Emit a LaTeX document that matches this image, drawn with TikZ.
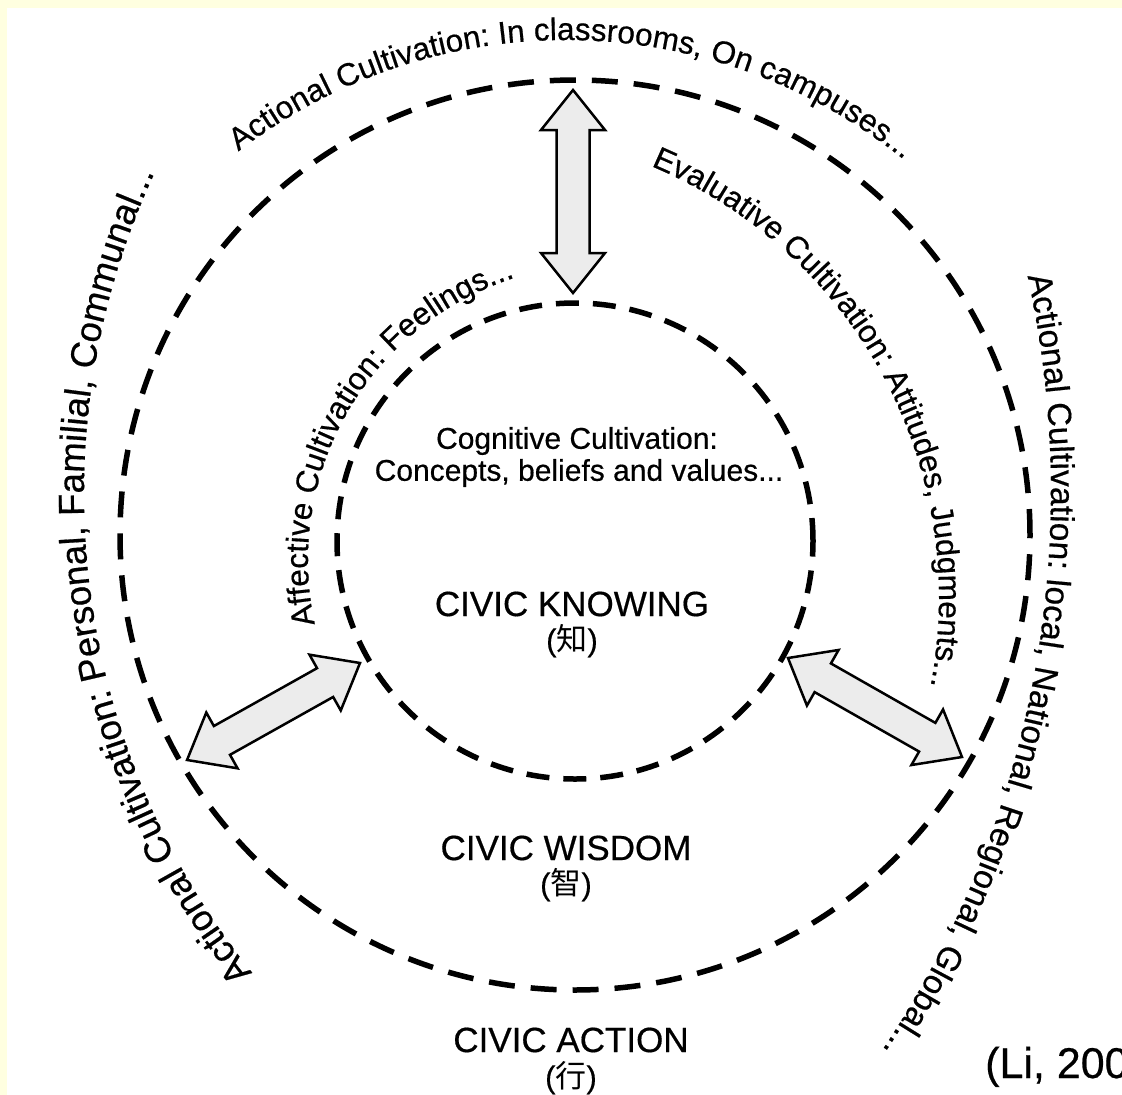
\documentclass[tikz,border=0pt]{standalone}
\usepackage{fontspec}
\setmainfont{Liberation Sans}[FakeBold=0.5]
\newfontfamily\cjk{Noto Sans CJK SC}
\usetikzlibrary{decorations.text}
\definecolor{bordery}{RGB}{255,255,224}
\definecolor{arrowgray}{RGB}{236,236,236}
\newcommand{\fsz}[1]{\fontsize{#1}{#1}\selectfont}
% double block arrow from a named coordinate, rotated, of given length
\newcommand{\dblarrow}[3]{%
  \begin{scope}[shift={(#1)},rotate=#2]
    \draw[blockarrow] (0,0) -- (40,32) -- (40,16.5) -- ({#3-40},16.5) -- ({#3-40},32)
      -- (#3,0) -- ({#3-40},-32) -- ({#3-40},-16.5) -- (40,-16.5) -- (40,-32) -- cycle;
  \end{scope}}
% text along a circular arc: cx, cy, radius, start, end, font size, text
\newcommand{\arctext}[7]{%
  \path[decorate, shift={(#1,#2)},
    decoration={text along path, text align=center, text={|\fsz{#6}|#7}}]
    (#4:#3) arc[start angle=#4, end angle=#5, radius=#3];}
\begin{document}
\begin{tikzpicture}[x=1pt,y=1pt,
  innerring/.style={draw=black, line width=5.5pt, dash pattern=on 23pt off 14pt},
  outerring/.style={draw=black, line width=5.5pt, dash pattern=on 26pt off 16pt},
  blockarrow/.style={draw=black, line width=2.5pt, fill=arrowgray, line join=miter},
  lbl/.style={inner sep=0pt, align=center, text=black}]
\useasboundingbox (0,0) rectangle (1122,-1095);
\fill[bordery] (0,0) rectangle (1122,-1095);
\fill[white] (7,-8) rectangle (1122,-1095);

% rings
\coordinate (ci) at (575,-541);
\coordinate (co) at (575,-535);
\draw[innerring] (ci) circle[radius=238];
\draw[outerring] (co) circle[radius=455];

% arrows
\coordinate (tIn) at (573,-293);
\coordinate (tOut) at (573,-90);
\coordinate (rIn) at (788,-658);
\coordinate (rOut) at (962,-757);
\coordinate (lIn) at (360,-663);
\coordinate (lOut) at (187,-760);
\dblarrow{tIn}{90}{203}
\dblarrow{rIn}{-29.64}{200.2}
\dblarrow{lIn}{209.28}{198.3}

% labels
\node[lbl, font=\fsz{30}] (cog1) at (577,-441) {Cognitive Cultivation:};
\node[lbl, font=\fsz{30}] (cog2) at (579,-473) {Concepts, beliefs and values...};
\node[lbl, font=\fsz{35}] (know) at (572,-604) {CIVIC KNOWING};
\node[lbl, font=\fsz{31}] (knowc) at (572,-641) {({\cjk 知})};
\node[lbl, font=\fsz{35}] (wis) at (566,-848) {CIVIC WISDOM};
\node[lbl, font=\fsz{31}] (wisc) at (566,-885) {({\cjk 智})};
\node[lbl, font=\fsz{35}] (act) at (571,-1040) {CIVIC ACTION};
\node[lbl, font=\fsz{31}] (actc) at (571,-1078) {({\cjk 行})};
\node[lbl, font=\fsz{43}, anchor=base west] (cite) at (985,-1078) {(Li, 200};

% curved texts
\arctext{566}{-577}{537}{139.3}{39.3}{31.5}{Actional Cultivation: In classrooms, On campuses...}
\arctext{43}{-492}{1008}{19.4}{-40.6}{33.5}{Actional Cultivation: local, National, Regional, Global...}
\arctext{849}{-494}{765}{227}{147}{36.5}{Actional Cultivation: Personal, Familial, Communal...}
\arctext{471}{-598}{468}{83.25}{-26.75}{31.5}{Evaluative Cultivation: Attitudes, Judgments...}
\arctext{604}{-560}{296}{210}{90}{31.5}{Affective Cultivation: Feelings...}
\end{tikzpicture}
\end{document}
